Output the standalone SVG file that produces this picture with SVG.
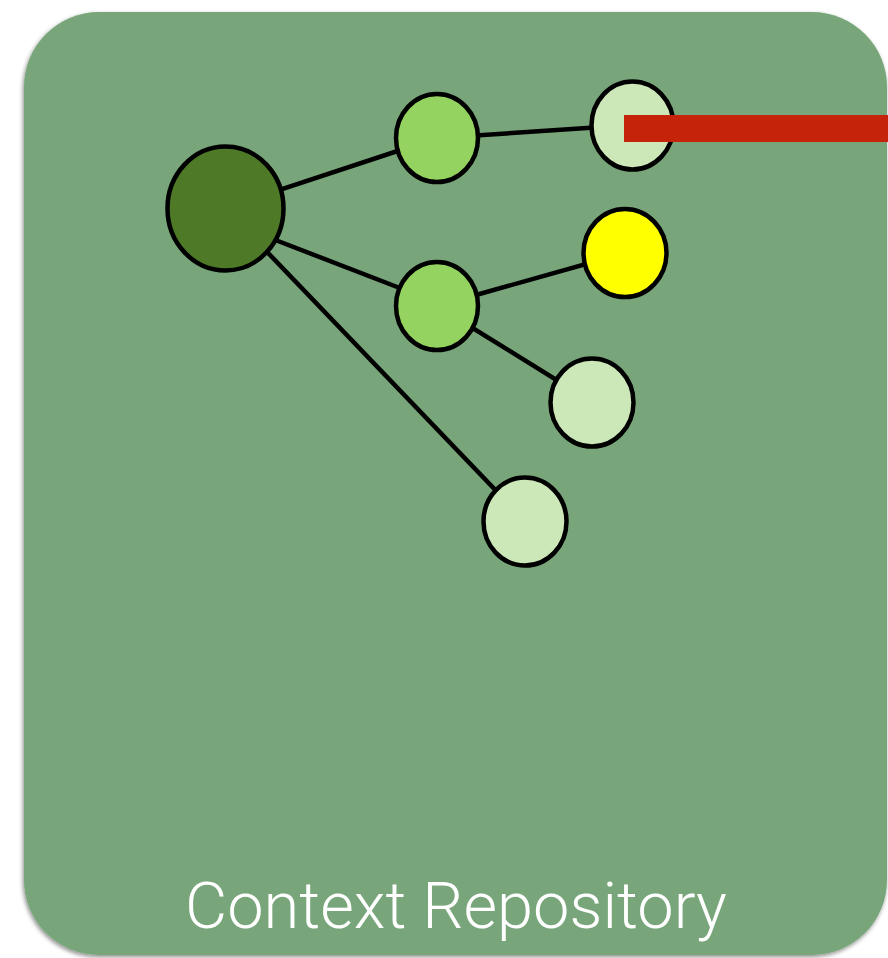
<svg xmlns="http://www.w3.org/2000/svg" width="888" height="958" viewBox="0 0 888 958">
<defs>
<filter id="shadow" x="-5%" y="-5%" width="110%" height="110%">
<feDropShadow dx="-1" dy="2" stdDeviation="2" flood-color="#000" flood-opacity="0.45"/>
</filter>
<style>
.node{stroke:#000;stroke-width:4.5}
.edge{stroke:#000;stroke-width:4.5;fill:none}
.dark{fill:#4e7a28}
.mid{fill:#95d360}
.pale{fill:#cde8b8}
.yel{fill:#ffff00}
.label{font-family:Roboto,"Liberation Sans",sans-serif;font-weight:300;font-size:64px;fill:#fff}
</style>
</defs>
<g id="repository">
<rect x="24" y="12" width="863" height="943" rx="75" ry="75" fill="#78a67a" filter="url(#shadow)"/>
<text class="label" x="456" y="928" text-anchor="middle" textLength="542" lengthAdjust="spacingAndGlyphs">Context Repository</text>
</g>
<g id="connectors">
<line class="edge" x1="225" y1="208" x2="437" y2="138"/>
<line class="edge" x1="437" y1="138" x2="632" y2="125"/>
<line class="edge" x1="265" y1="236" x2="405" y2="290"/>
<line class="edge" x1="437" y1="306" x2="625" y2="253"/>
<line class="edge" x1="437" y1="306" x2="592" y2="402"/>
<line class="edge" x1="225" y1="208" x2="525" y2="521"/>
</g>
<g id="root"><ellipse class="node dark" cx="225.5" cy="208.5" rx="58" ry="62"/></g>
<g id="n1"><ellipse class="node mid" cx="437" cy="138" rx="41" ry="44"/></g>
<g id="n2"><ellipse class="node pale" cx="632.5" cy="125.5" rx="41" ry="44"/></g>
<g id="n3"><ellipse class="node mid" cx="437" cy="306" rx="41" ry="44"/></g>
<g id="n4"><ellipse class="node yel" cx="625" cy="253" rx="41.5" ry="44"/></g>
<g id="n5"><ellipse class="node pale" cx="592" cy="402.5" rx="41.5" ry="44"/></g>
<g id="n6"><ellipse class="node pale" cx="525" cy="521.5" rx="41.5" ry="44"/></g>
<g id="bar"><rect x="624" y="115" width="264" height="27" fill="#c5230a"/></g>
</svg>
